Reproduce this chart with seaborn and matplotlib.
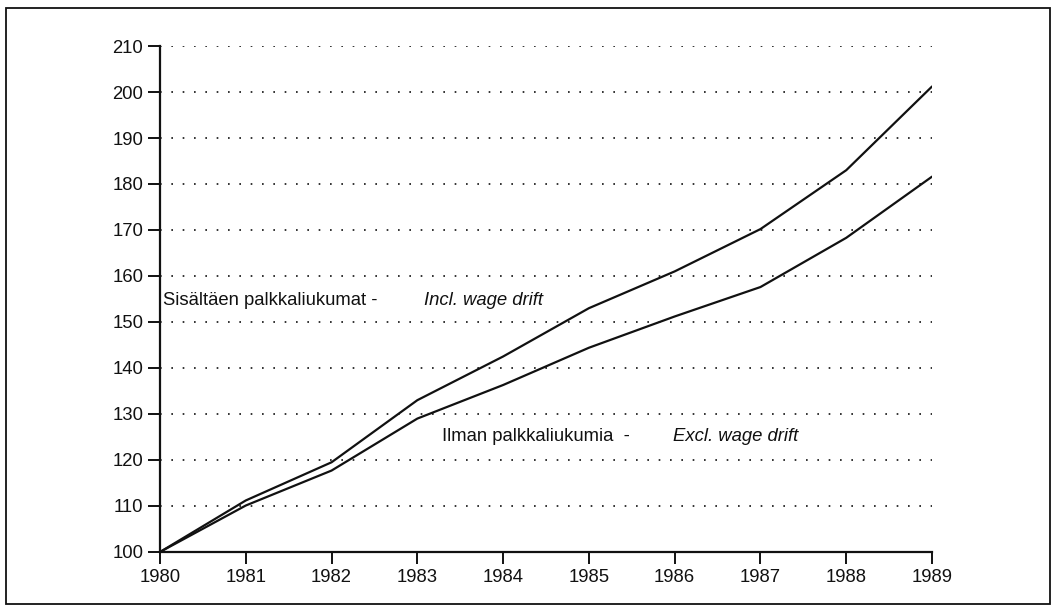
import matplotlib.pyplot as plt
import matplotlib.patches as mpatches
import pandas as pd
import seaborn as sns

# ── Data ─────────────────────────────────────────────────────────────────────
years = [1980, 1981, 1982, 1983, 1984, 1985, 1986, 1987, 1988, 1989]
incl_drift = [100, 111.2, 119.5, 133.0, 142.5, 153.0, 161.0, 170.2, 183.0, 201.2]
excl_drift = [100, 110.1, 117.7, 129.0, 136.3, 144.4, 151.2, 157.6, 168.3, 181.6]
y_ticks = [100, 110, 120, 130, 140, 150, 160, 170, 180, 190, 200, 210]

LINE_COLOR = "#111111"
FONT = "Liberation Sans"
FS = 13.3

df = pd.DataFrame({
    "year": years * 2,
    "index": incl_drift + excl_drift,
    "series": ["incl"] * len(years) + ["excl"] * len(years),
})

sns.set_style("white")
plt.rcParams["font.family"] = [FONT, "DejaVu Sans"]

fig = plt.figure(figsize=(10.56, 6.11), dpi=100)
ax = fig.add_axes([0.1515, 0.0966, 0.7311, 0.8281])

sns.lineplot(data=df, x="year", y="index", hue="series",
             palette={"incl": LINE_COLOR, "excl": LINE_COLOR},
             linewidth=1.6, legend=False, ax=ax)

ax.set_xlim(1980, 1989)
ax.set_ylim(100, 210)
ax.set_xticks(years)
ax.set_yticks(y_ticks)
ax.set_xlabel("")
ax.set_ylabel("")

# dotted horizontal grid
for v in y_ticks[1:]:
    ax.axhline(v, color=LINE_COLOR, linewidth=1.2,
               linestyle=(0, (1, 5.8)), zorder=0)

for side in ["top", "right"]:
    ax.spines[side].set_visible(False)
for side in ["left", "bottom"]:
    ax.spines[side].set_color(LINE_COLOR)
    ax.spines[side].set_linewidth(1.6)

ax.tick_params(axis="both", direction="out", length=8.5, width=1.4,
               color=LINE_COLOR, labelsize=FS, labelcolor=LINE_COLOR,
               left=True, bottom=True)
ax.tick_params(axis="y", pad=3.5)
ax.tick_params(axis="x", pad=3.5)

# series labels
ax.text(1980.03, 154.6, "Sisältäen palkkaliukumat -", fontsize=FS,
        color=LINE_COLOR, va="center", ha="left")
ax.text(1983.08, 154.6, "Incl. wage drift", fontsize=FS, style="italic",
        color=LINE_COLOR, va="center", ha="left")
ax.text(1983.29, 125.2, "Ilman palkkaliukumia  -", fontsize=FS,
        color=LINE_COLOR, va="center", ha="left")
ax.text(1985.98, 125.2, "Excl. wage drift", fontsize=FS, style="italic",
        color=LINE_COLOR, va="center", ha="left")

# frame around the whole figure
frame = mpatches.Rectangle((0.006, 0.011), 0.988, 0.976,
                           transform=fig.transFigure, fill=False,
                           edgecolor=LINE_COLOR, linewidth=1.3)
fig.patches.append(frame)

plt.savefig("out.png", dpi=100, facecolor="white")
plt.close()
